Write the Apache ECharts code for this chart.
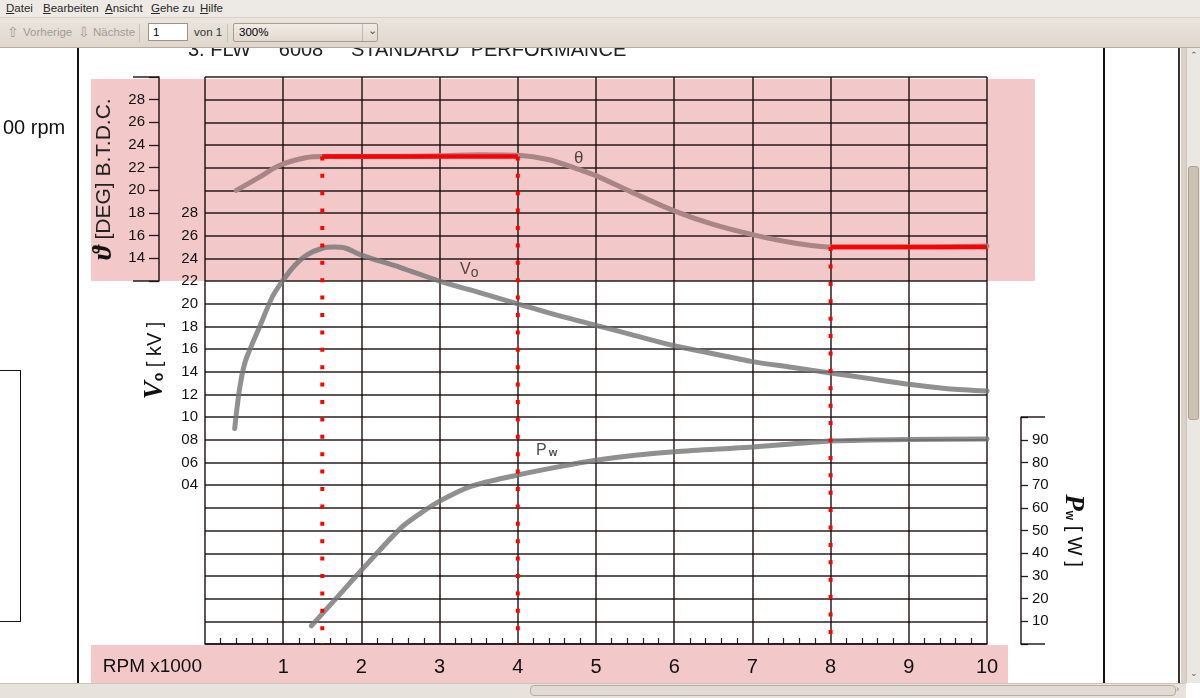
<!DOCTYPE html>
<html>
<head>
<meta charset="utf-8">
<script src="https://cdn.jsdelivr.net/npm/echarts@6/dist/echarts.min.js"></script>
<style>
html,body{margin:0;padding:0;width:1200px;height:698px;overflow:hidden;background:#fff;font-family:"Liberation Sans",Arial,sans-serif;}
.abs{position:absolute;}
#menubar{left:0;top:0;width:1200px;height:17px;background:#ede9e4;border-bottom:1px solid #d9d1c7;font-size:11.5px;color:#2a2a2a;z-index:3;}
#menubar span{position:absolute;top:2px;}
#toolbar{left:0;top:18px;width:1200px;height:29px;background:linear-gradient(#ebe5de,#dfd7cd);border-bottom:1px solid #b8ab9e;z-index:3;font-size:11.5px;}
.grey{color:#a29b94;}
.sep{position:absolute;top:6px;width:1px;height:18px;background:#cbc1b6;}
#pg{left:148px;top:5px;background:#fff;border:1px solid #9e9387;font-size:11.5px;line-height:16px;padding-left:4px;box-sizing:border-box;width:40px;height:18px;}
#zoombox{left:233px;top:5px;width:145px;height:19px;border:1px solid #a99d90;border-radius:2px;background:linear-gradient(#f0ebe5,#e2dad0);box-sizing:border-box;font-size:11.5px;line-height:17px;padding-left:5px;}
#pinkTop{left:91px;top:79px;width:944px;height:202px;background:#f3c8c9;z-index:0;}
#pinkBot{left:91px;top:645px;width:917px;height:38px;background:#f3c8c9;z-index:0;}
#chart{left:0;top:0;width:1200px;height:698px;z-index:1;}
.vline{background:#141414;z-index:2;}
#hscroll{left:0;top:683px;width:1186px;height:15px;background:#e7e2dc;border-top:1px solid #cdc4ba;box-sizing:border-box;z-index:3;}
#hthumb{left:530px;top:685px;width:646px;height:11px;background:#e1dbd3;border:1px solid #b9ada1;border-radius:4px;box-sizing:border-box;z-index:4;}
#vscroll{left:1186px;top:48px;width:14px;height:635px;background:#ebe7e2;border-left:1px solid #cfc6bc;box-sizing:border-box;z-index:3;}
#vthumb{left:1188px;top:166px;width:11px;height:254px;background:#cbc1b5;border:1px solid #b0a396;border-radius:3px;box-sizing:border-box;z-index:4;}
#gutter{left:1181px;top:48px;width:5px;height:635px;background:#d9d1c7;z-index:2;}
</style>
</head>
<body>
<div id="pinkTop" class="abs"></div>
<div id="pinkBot" class="abs"></div>
<div id="chart" class="abs"></div>

<div id="menubar" class="abs">
  <span style="left:6px"><u>D</u>atei</span>
  <span style="left:43px"><u>B</u>earbeiten</span>
  <span style="left:105px"><u>A</u>nsicht</span>
  <span style="left:151px"><u>G</u>ehe zu</span>
  <span style="left:200px"><u>H</u>ilfe</span>
</div>
<div id="toolbar" class="abs">
  <span class="abs grey" style="left:7px;top:6px;font-size:14px;">&#8679;</span>
  <span class="abs grey" style="left:23px;top:8px;">Vorherige</span>
  <span class="abs grey" style="left:78px;top:6px;font-size:14px;">&#8681;</span>
  <span class="abs grey" style="left:93px;top:8px;">Nächste</span>
  <div class="sep" style="left:139px"></div>
  <div id="pg" class="abs">1</div>
  <span class="abs" style="left:194px;top:8px;color:#333;">von 1</span>
  <div class="sep" style="left:227px"></div>
  <div id="zoombox" class="abs">300%<span class="abs" style="left:128px;top:0px;width:1px;height:17px;background:#c2b7ab;"></span><span class="abs" style="left:134px;top:-2px;color:#555;font-size:11px;">&#8964;</span></div>
</div>

<div class="abs" style="left:3px;top:116px;font-size:20px;color:#111;z-index:2;">00 rpm</div>
<div class="abs" style="left:-2px;top:370px;width:23px;height:252px;border:1.5px solid #111;box-sizing:border-box;z-index:2;"></div>
<div class="abs vline" style="left:77px;top:48px;width:2px;height:635px;"></div>
<div class="abs vline" style="left:1103px;top:48px;width:2px;height:635px;"></div>
<div class="abs vline" style="left:1178px;top:48px;width:2px;height:635px;background:#333;"></div>
<div id="gutter" class="abs"></div>
<div id="vscroll" class="abs"><span class="abs" style="left:3px;top:2px;font-size:9px;color:#666;">&#8963;</span><span class="abs" style="left:3px;top:620px;font-size:9px;color:#666;">&#8964;</span></div>
<div id="vthumb" class="abs"></div>
<div id="hscroll" class="abs"><span class="abs" style="left:1176px;top:0px;font-size:9px;color:#777;">&#8250;</span></div>
<div id="hthumb" class="abs"></div>

<script>
// ---------------- data ----------------
// ignition advance θ [deg B.T.D.C.] vs RPM x1000
const rpmTheta  = [0.40, 0.68, 0.95, 1.30, 1.50, 2.00, 2.50, 3.00, 3.50, 4.00, 4.40, 4.80, 5.00, 5.50, 6.00, 6.50, 7.00, 7.50, 8.00, 9.00, 10.00];
const thetaDeg  = [20.0, 21.1, 22.2, 22.9, 23.0, 23.0, 23.0, 23.05, 23.15, 23.1, 22.7, 21.8, 21.3, 19.7, 18.2, 17.0, 16.1, 15.4, 15.0, 15.0, 15.1];

// output voltage V0 [kV]
const rpmV0 = [0.38, 0.44, 0.51, 0.60, 0.70, 0.86, 0.99, 1.15, 1.30, 1.50, 1.65, 1.80, 2.00, 2.50, 3.00, 3.50, 4.00, 4.50, 5.00, 5.50, 6.00, 6.50, 7.00, 7.50, 8.00, 8.50, 9.00, 9.50, 10.00];
const v0kV  = [9.0, 12.4, 14.8, 16.4, 18.0, 20.6, 22.0, 23.4, 24.3, 24.9, 25.0, 24.9, 24.3, 23.2, 22.0, 21.0, 20.0, 19.0, 18.1, 17.2, 16.3, 15.6, 14.9, 14.4, 13.9, 13.4, 12.9, 12.5, 12.3];

// power Pw [W]
const rpmPw = [1.36, 1.70, 2.00, 2.50, 2.75, 3.00, 3.40, 4.00, 4.50, 5.00, 5.50, 6.00, 7.00, 7.50, 8.00, 9.00, 10.00];
const pwW   = [8, 21, 32.5, 51, 57.5, 63, 69.5, 74.5, 78, 81, 83.2, 84.8, 86.9, 88.2, 89.5, 90.2, 90.4];

// red highlighted θ plateaus
const plateauStart = [1.5, 8];
const plateauEnd   = [4, 10];
const plateauTheta = [23, 15];

// red dotted marker lines
const markerRpm   = [1.5, 4, 8];
const markerTheta = [23, 23, 15];

// tick label sets
const rpmTicks   = [1, 2, 3, 4, 5, 6, 7, 8, 9, 10];
const thetaTicks = [14, 16, 18, 20, 22, 24, 26, 28];
const v0Ticks    = [4, 6, 8, 10, 12, 14, 16, 18, 20, 22, 24, 26, 28];
const pwTicks    = [10, 20, 30, 40, 50, 60, 70, 80, 90];

// curve annotation anchors (data units)
const thetaNote = [4.78, 22.86];
const v0Note    = [3.38, 22.98];
const pwNote    = [4.37, 85.2];

// ---------------- chart ----------------
const ink = 'rgba(24,12,12,0.92)';
const font = '"Liberation Sans", Arial, sans-serif';
const thetaFullMin = -20, thetaFullMax = 30;

const chart = echarts.init(document.getElementById('chart'), null, {renderer: 'canvas'});

const pair = (xs, ys) => xs.map((x, i) => [x, ys[i]]);

const series = [
  { type: 'line', name: 'theta', xAxisIndex: 0, yAxisIndex: 1, data: pair(rpmTheta, thetaDeg),
    smooth: 0.3, symbol: 'none', silent: true, z: 3,
    lineStyle: { color: '#a98585', width: 5, cap: 'round' } },
  { type: 'line', name: 'V0', xAxisIndex: 0, yAxisIndex: 0, data: pair(rpmV0, v0kV),
    smooth: 0.3, symbol: 'none', silent: true, z: 3,
    lineStyle: { color: 'rgba(120,120,120,0.82)', width: 5, cap: 'round' } },
  { type: 'line', name: 'Pw', xAxisIndex: 2, yAxisIndex: 4, data: pair(rpmPw, pwW),
    smooth: 0.3, symbol: 'none', silent: true, z: 3,
    lineStyle: { color: 'rgba(120,120,120,0.82)', width: 5, cap: 'round' } }
];

plateauStart.forEach((s, i) => {
  series.push({ type: 'line', xAxisIndex: 0, yAxisIndex: 1, symbol: 'none', silent: true, z: 5,
    data: [[s, plateauTheta[i]], [plateauEnd[i], plateauTheta[i]]],
    lineStyle: { color: '#ff0000', width: 4.5, cap: 'butt' } });
});

markerRpm.forEach((r, i) => {
  series.push({ type: 'line', xAxisIndex: 0, yAxisIndex: 1, symbol: 'none', silent: true, z: 6,
    data: [[r, markerTheta[i]], [r, thetaFullMin]],
    lineStyle: { color: '#ff0000', width: 4, type: [4, 13.4], cap: 'butt' } });
});

const note = (xi, yi, pt, fmt, rich) => ({
  type: 'scatter', xAxisIndex: xi, yAxisIndex: yi, silent: true, z: 7,
  symbolSize: 1, itemStyle: { color: 'rgba(0,0,0,0)' },
  data: [pt],
  label: { show: true, position: 'inside', formatter: fmt, color: '#222', fontFamily: font, fontSize: 17, rich: rich }
});
series.push(note(0, 1, thetaNote, 'θ', {}));
series.push(note(0, 0, v0Note, '{a|V}{b|o}', {
  a: { fontSize: 16, color: '#222', fontFamily: font },
  b: { fontSize: 14, color: '#222', fontFamily: font, padding: [6, 0, 0, 0] } }));
series.push(note(2, 4, pwNote, '{a|P}{b|w}', {
  a: { fontSize: 16, color: '#222', fontFamily: font },
  b: { fontSize: 11, color: '#222', fontWeight: 'bold', fontFamily: font, padding: [5, 0, 0, 2] } }));

const hiddenX = (g) => ({ gridIndex: g, type: 'value', min: 0, max: 10, show: false });
const fmtTicks = (list, pad) => (v) => list.indexOf(v) >= 0 ? (pad ? String(v).padStart(2, '0') : String(v)) : '';

const option = {
  animation: false,
  title: {
    text: '3. FLW     6008     STANDARD  PERFORMANCE',
    left: 183, top: 35,
    textStyle: { fontSize: 20, fontWeight: 'normal', color: '#222', fontFamily: font }
  },
  grid: [
    { left: 205, right: 213, top: 77, bottom: 54, outerBoundsMode: 'none', containLabel: false },
    { left: 205, right: 213, top: 77, height: 204, outerBoundsMode: 'none', containLabel: false },
    { left: 205, right: 213, top: 417.2, bottom: 54, outerBoundsMode: 'none', containLabel: false }
  ],
  xAxis: [
    { gridIndex: 0, type: 'value', min: 0, max: 10, interval: 1,
      axisLine: { show: true, onZero: false, lineStyle: { color: ink, width: 1.5 } },
      axisTick: { show: false, inside: true },
      minorTick: { show: true, splitNumber: 5, length: 6, lineStyle: { color: ink, width: 1.2 } },
      splitLine: { show: true, lineStyle: { color: ink, width: 1.5 } },
      axisLabel: { formatter: fmtTicks(rpmTicks, false), fontSize: 20, color: '#111', margin: 13, fontFamily: font },
      name: 'RPM x1000', nameLocation: 'start', nameGap: 3,
      nameTextStyle: { fontSize: 19, color: '#111', fontFamily: font, verticalAlign: 'top', padding: [13, 0, 0, 0] } },
    hiddenX(1),
    hiddenX(2)
  ],
  yAxis: [
    { // V0 scale + horizontal rules
      gridIndex: 0, type: 'value', min: -10, max: 40, interval: 2, position: 'left',
      axisLine: { show: false, onZero: false }, axisTick: { show: false },
      axisLabel: { formatter: fmtTicks(v0Ticks, true), margin: 7, fontSize: 15, color: '#111', fontFamily: font },
      splitLine: { show: true, lineStyle: { color: ink, width: 1.5 } },
      name: '{v|V}{o|o}{n| [ kV ]}', nameLocation: 'middle', nameGap: 36,
      nameTextStyle: { color: '#111', rich: {
        v: { fontSize: 27, fontWeight: 'bold', fontStyle: 'italic', fontFamily: '"Liberation Serif", serif', color: '#111' },
        o: { fontSize: 14, fontWeight: 'bold', fontFamily: font, color: '#111', padding: [8, 0, 0, 0] },
        n: { fontSize: 20, fontFamily: font, color: '#111' } } } },
    { // full-height θ scale (hidden) for plotting
      gridIndex: 0, type: 'value', min: thetaFullMin, max: thetaFullMax, show: false,
      axisLine: { onZero: false } },
    { // θ display axis
      gridIndex: 1, type: 'value', min: 12, max: 30, interval: 2, position: 'left', offset: 46,
      axisLine: { show: true, onZero: false, lineStyle: { color: ink, width: 1.5 } },
      axisTick: { show: true, length: 10, lineStyle: { color: ink, width: 1.3 } },
      axisLabel: { formatter: fmtTicks(thetaTicks, false), margin: 14, fontSize: 15, color: '#111', fontFamily: font },
      splitLine: { show: false },
      name: '{t|ϑ}{n| [DEG] B.T.D.C.}', nameLocation: 'middle', nameGap: 30,
      nameTextStyle: { color: '#222', rich: {
        t: { fontSize: 27, fontWeight: 'bold', fontStyle: 'italic', fontFamily: '"Liberation Serif", serif', color: '#111' },
        n: { fontSize: 21, fontFamily: font, color: '#222' } } } },
    { // θ bracket ends
      gridIndex: 1, type: 'value', min: 12, max: 30, interval: 18, position: 'left', offset: 46,
      axisLine: { show: false, onZero: false }, axisLabel: { show: false }, splitLine: { show: false },
      axisTick: { show: true, length: 26, lineStyle: { color: ink, width: 1.5 } } },
    { // Pw display axis
      gridIndex: 2, type: 'value', min: 0, max: 100, interval: 10, position: 'right', offset: 34,
      axisLine: { show: true, onZero: false, lineStyle: { color: ink, width: 1.5 } },
      axisTick: { show: true, length: 7, lineStyle: { color: ink, width: 1.3 } },
      axisLabel: { formatter: fmtTicks(pwTicks, false), margin: 11, fontSize: 15, color: '#111', fontFamily: font },
      splitLine: { show: false },
      name: '{p|P}{w|w}{n| [ W ]}', nameLocation: 'middle', nameRotate: -90, nameGap: 36,
      nameTextStyle: { color: '#111', rich: {
        p: { fontSize: 27, fontWeight: 'bold', fontStyle: 'italic', fontFamily: '"Liberation Serif", serif', color: '#111' },
        w: { fontSize: 12, fontWeight: 'bold', fontFamily: font, color: '#111', padding: [8, 0, 0, 0] },
        n: { fontSize: 20, fontFamily: font, color: '#111' } } } },
    { // Pw bracket ends
      gridIndex: 2, type: 'value', min: 0, max: 100, interval: 100, position: 'right', offset: 34,
      axisLine: { show: false, onZero: false }, axisLabel: { show: false }, splitLine: { show: false },
      axisTick: { show: true, length: 24, lineStyle: { color: ink, width: 1.5 } } }
  ],
  series: series
};
chart.setOption(option);
</script>
</body>
</html>
